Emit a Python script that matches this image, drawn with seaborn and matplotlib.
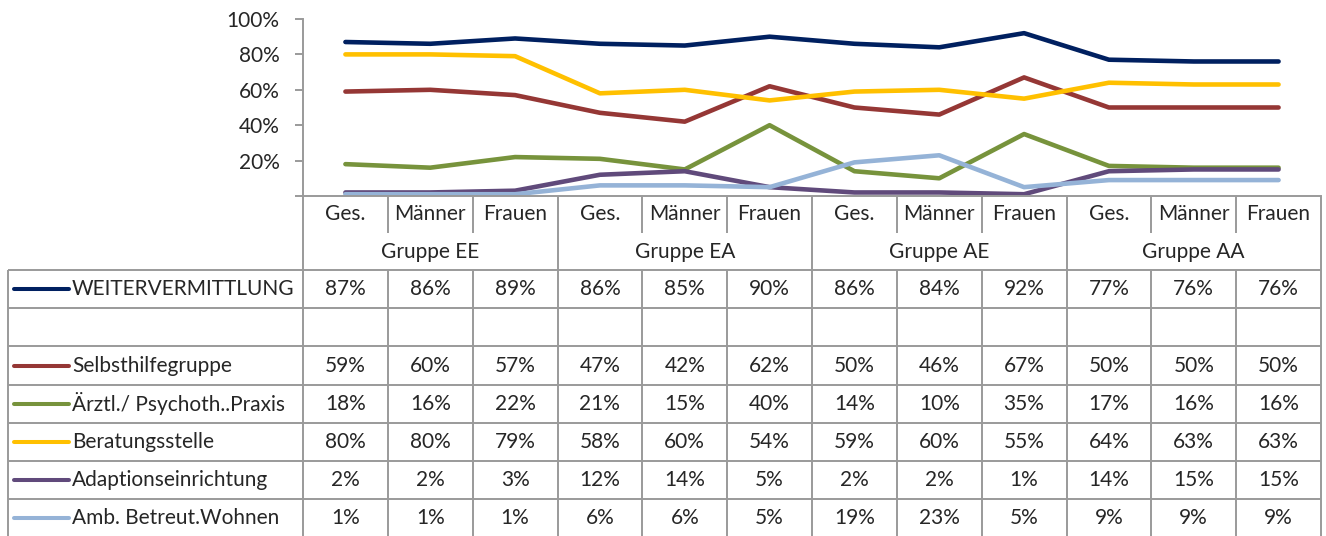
import matplotlib
matplotlib.use('Agg')
import matplotlib.pyplot as plt
import matplotlib.transforms as mtransforms
import seaborn as sns
import pandas as pd

# Data (percent values as shown in the data table)
groups = ['Gruppe EE', 'Gruppe EA', 'Gruppe AE', 'Gruppe AA']
subgroups = ['Ges.', 'Männer', 'Frauen']
row_labels = ['WEITERVERMITTLUNG', '', 'Selbsthilfegruppe', 'Ärztl./ Psychoth..Praxis',
              'Beratungsstelle', 'Adaptionseinrichtung', 'Amb. Betreut.Wohnen']
weitervermittlung = [87, 86, 89, 86, 85, 90, 86, 84, 92, 77, 76, 76]
leer = []
selbsthilfegruppe = [59, 60, 57, 47, 42, 62, 50, 46, 67, 50, 50, 50]
praxis = [18, 16, 22, 21, 15, 40, 14, 10, 35, 17, 16, 16]
beratungsstelle = [80, 80, 79, 58, 60, 54, 59, 60, 55, 64, 63, 63]
adaption = [2, 2, 3, 12, 14, 5, 2, 2, 1, 14, 15, 15]
wohnen = [1, 1, 1, 6, 6, 5, 19, 23, 5, 9, 9, 9]
row_values = [weitervermittlung, leer, selbsthilfegruppe, praxis, beratungsstelle, adaption, wohnen]
row_colors = ['#002060', None, '#953735', '#77933C', '#FFC000', '#604A7B', '#95B3D7']

categories = [f'{g}|{s}' for g in groups for s in subgroups]

records = []
for name, vals in zip(row_labels, row_values):
    for i, v in enumerate(vals):
        records.append({'series': name, 'pos': i, 'value': v / 100})
df = pd.DataFrame(records)
hue_order = [n for n, v in zip(row_labels, row_values) if v]
palette = {n: c for n, c, v in zip(row_labels, row_colors, row_values) if v}

sns.set_style('white')
plt.rcParams['font.family'] = ['Lato', 'DejaVu Sans']
plt.rcParams['lines.solid_capstyle'] = 'round'
plt.rcParams['lines.solid_joinstyle'] = 'round'

W, H = 1326, 536
fig = plt.figure(figsize=(W / 100, H / 100), dpi=100)
AX_L, AX_R, AX_T, AX_B = 303, 1321, 19, 196
ax = fig.add_axes([AX_L / W, 1 - AX_B / H, (AX_R - AX_L) / W, (AX_B - AX_T) / H])
ov = fig.add_axes([0, 0, 1, 1], zorder=-1)
ov.set_xlim(0, W)
ov.set_ylim(H, 0)
ov.axis('off')

grid = '#9a9a9a'
lw_grid = 1.4
fs = 15
lw_series = 3.3

sns.lineplot(data=df, x='pos', y='value', hue='series', hue_order=hue_order,
             palette=palette, linewidth=lw_series, errorbar=None, legend=False, ax=ax)
ax.set_xlim(-0.5, len(categories) - 0.5)
ax.set_ylim(0, 1)
yt = [0, 0.2, 0.4, 0.6, 0.8, 1.0]
ax.set_yticks(yt)
ax.set_yticklabels(['' if t == 0 else f'{int(round(t * 100))}%' for t in yt], fontsize=fs)
ax.set_xticks([])
ax.set_xlabel('')
ax.set_ylabel('')
ax.tick_params(axis='y', length=6, width=lw_grid, color=grid, pad=11, left=True)
for s in ['top', 'right']:
    ax.spines[s].set_visible(False)
for s in ['left', 'bottom']:
    ax.spines[s].set_color(grid)
    ax.spines[s].set_linewidth(lw_grid)
ax.patch.set_alpha(0)

# table drawn below the axis: x from category positions, y in figure pixels
tr = mtransforms.blended_transform_factory(ax.transData, ov.transData)
n = len(categories)
CAT_SEP_BOTTOM = 233
HEADER_BOTTOM = 270
ROW_H = 38.2
TABLE_LEFT = 8
line_kw = dict(color=grid, lw=lw_grid, clip_on=False, solid_capstyle='butt')

# category labels and separators
for i, c in enumerate(categories):
    ax.text(i, 214, c.split('|')[1], transform=tr, ha='center', va='center', fontsize=fs)
for b in range(1, n):
    if b % 3 != 0:
        ov.plot([b - 0.5, b - 0.5], [AX_B, CAT_SEP_BOTTOM], transform=tr, **line_kw)
for gi, g in enumerate(groups):
    ax.text(gi * 3 + 1, 252, g, transform=tr, ha='center', va='center', fontsize=fs)

# group separators through the header, and all column lines through the table
table_bottom = HEADER_BOTTOM + ROW_H * len(row_labels)
for b in range(0, n + 1):
    top = AX_B if b % 3 == 0 else HEADER_BOTTOM
    ov.plot([b - 0.5, b - 0.5], [top, table_bottom], transform=tr, **line_kw)
ov.plot([TABLE_LEFT, TABLE_LEFT], [HEADER_BOTTOM, table_bottom], **line_kw)

# horizontal row lines
for r in range(len(row_labels) + 1):
    y = HEADER_BOTTOM + r * ROW_H
    ov.plot([TABLE_LEFT, AX_R], [y, y], **line_kw)

# row contents
for r, (name, vals, col) in enumerate(zip(row_labels, row_values, row_colors)):
    yc = HEADER_BOTTOM + (r + 0.5) * ROW_H
    if col is not None:
        ov.plot([14, 69], [yc, yc], color=col, lw=2.9, solid_capstyle='round')
    ov.text(72, yc, name, ha='left', va='center', fontsize=fs)
    for i, v in enumerate(vals):
        ax.text(i, yc, f'{v}%', transform=tr, ha='center', va='center', fontsize=fs)

fig.savefig('out.png', dpi=100)
